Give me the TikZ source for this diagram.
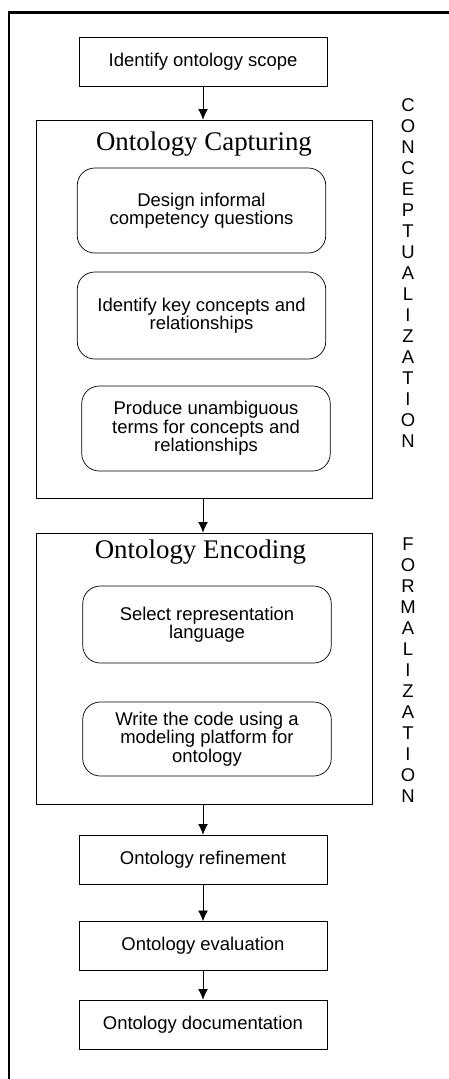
\documentclass[tikz,border=0pt]{standalone}
\usepackage{fontspec}
\setmainfont{Liberation Sans}
\newfontfamily\titlefont{Liberation Serif}
\usetikzlibrary{arrows.meta}

\begin{document}
\begin{tikzpicture}[
  box/.style={draw, minimum width=4.96cm, minimum height=0.98cm, inner sep=0pt, align=center, font=\fontsize{10.5}{10.5}\selectfont},
  rbox/.style={draw, rounded corners=0.35cm, minimum width=4.97cm, inner sep=0pt, align=center, font=\fontsize{10.5}{10.5}\selectfont},
  phase/.style={draw, minimum width=6.72cm, inner sep=0pt},
  ttl/.style={anchor=base, inner sep=0pt, font=\titlefont\fontsize{15.3}{18}\selectfont},
  side/.style={inner sep=0pt, align=center, font=\fontsize{10.5}{11.95}\selectfont},
  arr/.style={-{Latex[length=6pt,width=5.5pt]}, thin}
]
\useasboundingbox (0,0) rectangle (8.98,-21.58);
\draw[line width=1.5pt] (0.18,-21.7) |- (9.1,-0.25);
% Steps
\node[box] (s1) at (4.06,-1.23) {Identify ontology scope};
\node[phase, minimum height=7.56cm] (p1) at (4.08,-6.18) {};
\node[ttl] (t1) at (4.08,-3.0) {Ontology Capturing};
\node[rbox, minimum height=1.70cm] (c1) at (4.03,-4.21) {Design informal\\competency questions};
\node[rbox, minimum height=1.74cm] (c2) at (4.03,-6.31) {Identify key concepts and\\relationships};
\node[rbox, minimum height=1.70cm] (c3) at (4.12,-8.57) {Produce unambiguous\\terms for concepts and\\relationships};
\node[phase, minimum height=5.42cm] (p2) at (4.08,-13.37) {};
\node[ttl] (t2) at (4.01,-11.16) {Ontology Encoding};
\node[rbox, minimum height=1.54cm] (e1) at (4.14,-12.49) {Select representation\\language};
\node[rbox, minimum height=1.48cm] (e2) at (4.14,-14.78) {Write the code using a\\modeling platform for\\ontology};
\node[box] (s2) at (4.06,-17.19) {Ontology refinement};
\node[box] (s3) at (4.06,-18.92) {Ontology evaluation};
\node[box] (s4) at (4.06,-20.49) {Ontology documentation};
% Phase labels
\node[side] (n1) at (8.16,-5.47) {C\\O\\N\\C\\E\\P\\T\\U\\A\\L\\I\\Z\\A\\T\\I\\O\\N};
\node[side] (n2) at (8.16,-13.40) {F\\O\\R\\M\\A\\L\\I\\Z\\A\\T\\I\\O\\N};
% Arrows
\draw[arr] (s1.south) -- (s1.south |- p1.north);
\draw[arr] (s2 |- p1.south) -- (s2 |- p2.north);
\draw[arr] (s2 |- p2.south) -- (s2.north);
\draw[arr] (s2.south) -- (s3.north);
\draw[arr] (s3.south) -- (s4.north);
\end{tikzpicture}
\end{document}
